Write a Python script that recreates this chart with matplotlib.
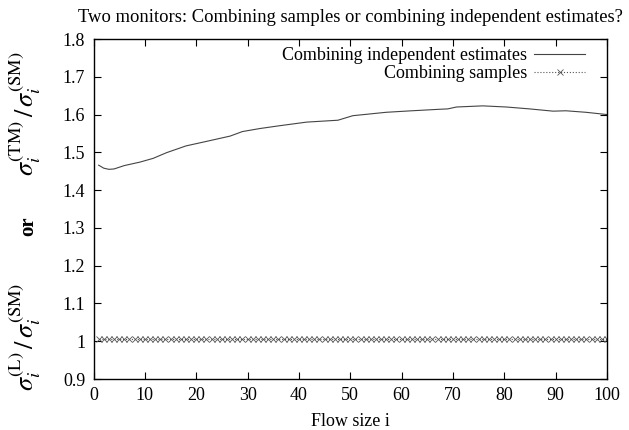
import numpy as np
import matplotlib
matplotlib.use("Agg")
import matplotlib.pyplot as plt
from matplotlib.ticker import FormatStrFormatter, MultipleLocator

plt.rcParams['font.family'] = ['Liberation Serif', 'DejaVu Serif']
plt.rcParams['mathtext.fontset'] = 'stix'

# ratio of independent estimates vs. flow size
est_x = [1, 2, 3, 4, 6, 9, 11.6, 14.2, 18, 22, 26.6, 29, 32.4, 36, 41.5, 47.6,
         50.5, 57, 62, 67.4, 69, 70.7, 75.8, 80.4, 84.9, 89.5, 92, 95.9, 100]
est_y = [1.466, 1.458, 1.455, 1.456, 1.465, 1.474, 1.484, 1.499, 1.517, 1.529,
         1.543, 1.555, 1.563, 1.570, 1.580, 1.585, 1.597, 1.606, 1.610, 1.614,
         1.615, 1.620, 1.623, 1.620, 1.615, 1.609, 1.610, 1.606, 1.600]

# ratio when combining samples, one point per flow size
samp_x = np.arange(1, 101)
samp_y = [1.005] * 100

fig = plt.figure(figsize=(6.29, 4.30), dpi=100)
ax = fig.add_axes([0.1487, 0.1186, 0.8163, 0.7907])

ax.plot(est_x, est_y, color='#444444', lw=0.8, label='Combining independent estimates')
ax.plot(samp_x, samp_y, color='#555555', lw=0.8, ls=':', marker='x', ms=4.5,
        mew=0.6, label='Combining samples')

ax.set_xlim(0, 100)
ax.set_ylim(0.9, 1.8)
ax.xaxis.set_major_locator(MultipleLocator(10))
ax.yaxis.set_major_locator(MultipleLocator(0.1))
ax.yaxis.set_major_formatter(FormatStrFormatter('%g'))
ax.tick_params(direction='in', top=True, right=True, length=5, width=0.8,
               labelsize=13, pad=6)
for s in ax.spines.values():
    s.set_linewidth(1.0)

ax.set_xlabel('Flow size i', fontsize=13, labelpad=6)
ax.set_title('Two monitors: Combining samples or combining independent estimates?',
             fontsize=13.4, pad=12)

# y label built from three pieces
fig.text(0.0405, 0.735, r'$\sigma_i^{(\mathrm{TM})}\,/\,\sigma_i^{(\mathrm{SM})}$',
         rotation=90, ha='center', va='center', fontsize=19)
fig.text(0.0445, 0.474, 'or', rotation=90, ha='center', va='center',
         fontsize=15, fontweight='bold')
fig.text(0.0405, 0.216, r'$\sigma_i^{(\mathrm{L})}\,/\,\sigma_i^{(\mathrm{SM})}$',
         rotation=90, ha='center', va='center', fontsize=19)

ax.legend(loc='upper right', bbox_to_anchor=(0.971, 0.997), frameon=False,
          markerfirst=False, fontsize=13, handlelength=2.8, borderaxespad=0,
          labelspacing=0.05, handletextpad=0.4)

fig.savefig('out.png', dpi=100)
